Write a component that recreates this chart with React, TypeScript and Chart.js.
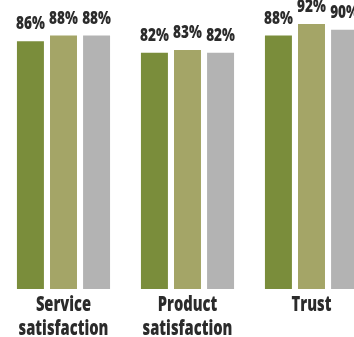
import React, { useEffect, useRef } from "react";
import { Chart, registerables } from "chart.js";

Chart.register(...registerables);

const categories: string[][] = [
  ["Service", "satisfaction"],
  ["Product", "satisfaction"],
  ["Trust"],
];
const seriesNames = ["Series 1", "Series 2", "Series 3"];
const series1 = [86, 82, 88];
const series2 = [88, 83, 92];
const series3 = [88, 82, 90];
const colors = ["#7a8d3b", "#a4a567", "#b3b3b3"];

const FONT = "'Open Sans', 'Noto Sans', sans-serif";
const TEXT = "#2b2b2b";

function drawSqueezed(
  ctx: CanvasRenderingContext2D,
  text: string,
  x: number,
  y: number,
  squeeze: number
) {
  ctx.save();
  ctx.translate(x, y);
  ctx.scale(squeeze, 1);
  ctx.fillText(text, 0, 0);
  ctx.restore();
}

const labelsPlugin = {
  id: "labelsPlugin",
  afterDatasetsDraw(chart: any) {
    const ctx = chart.ctx as CanvasRenderingContext2D;
    ctx.save();
    ctx.fillStyle = TEXT;
    ctx.textAlign = "center";
    ctx.textBaseline = "alphabetic";
    // value labels
    ctx.font = `800 17px ${FONT}`;
    chart.data.datasets.forEach((ds: any, di: number) => {
      const meta = chart.getDatasetMeta(di);
      meta.data.forEach((bar: any, i: number) => {
        drawSqueezed(ctx, `${ds.data[i]}%`, bar.x, bar.y - 12, 0.8);
      });
    });
    // category labels
    ctx.font = `800 21px ${FONT}`;
    const xs = chart.scales.x;
    const bottom = chart.chartArea.bottom;
    (chart.data.labels as string[][]).forEach((lines, i) => {
      const cx = xs.getPixelForValue(i);
      lines.forEach((line, li) => {
        drawSqueezed(ctx, line, cx, bottom + 22 + li * 24, 0.7);
      });
    });
    ctx.restore();
  },
};

export default function App() {
  const ref = useRef<HTMLCanvasElement>(null);
  useEffect(() => {
    if (!ref.current) return;
    const data = [series1, series2, series3];
    const chart = new Chart(ref.current, {
      type: "bar",
      data: {
        labels: categories as any,
        datasets: data.map((d, i) => ({
          label: seriesNames[i],
          data: d,
          backgroundColor: colors[i],
          borderWidth: 0,
          categoryPercentage: 0.8,
          barPercentage: 0.816,
        })),
      },
      options: {
        animation: false,
        responsive: false,
        maintainAspectRatio: false,
        layout: { padding: { top: 1, left: 1.5, right: 2.5, bottom: 48 } },
        plugins: {
          legend: { display: false },
          tooltip: { enabled: false },
        },
        scales: {
          x: { display: false },
          y: { display: false, min: 0, max: 100 },
        },
      },
      plugins: [labelsPlugin],
    });
    return () => chart.destroy();
  }, []);
  return (
    <div
      style={{
        position: "fixed",
        left: 0,
        top: 0,
        width: 354,
        height: 337,
        overflow: "hidden",
        background: "#ffffff",
      }}
    >
      <canvas ref={ref} width={376} height={337} style={{ display: "block" }} />
    </div>
  );
}
